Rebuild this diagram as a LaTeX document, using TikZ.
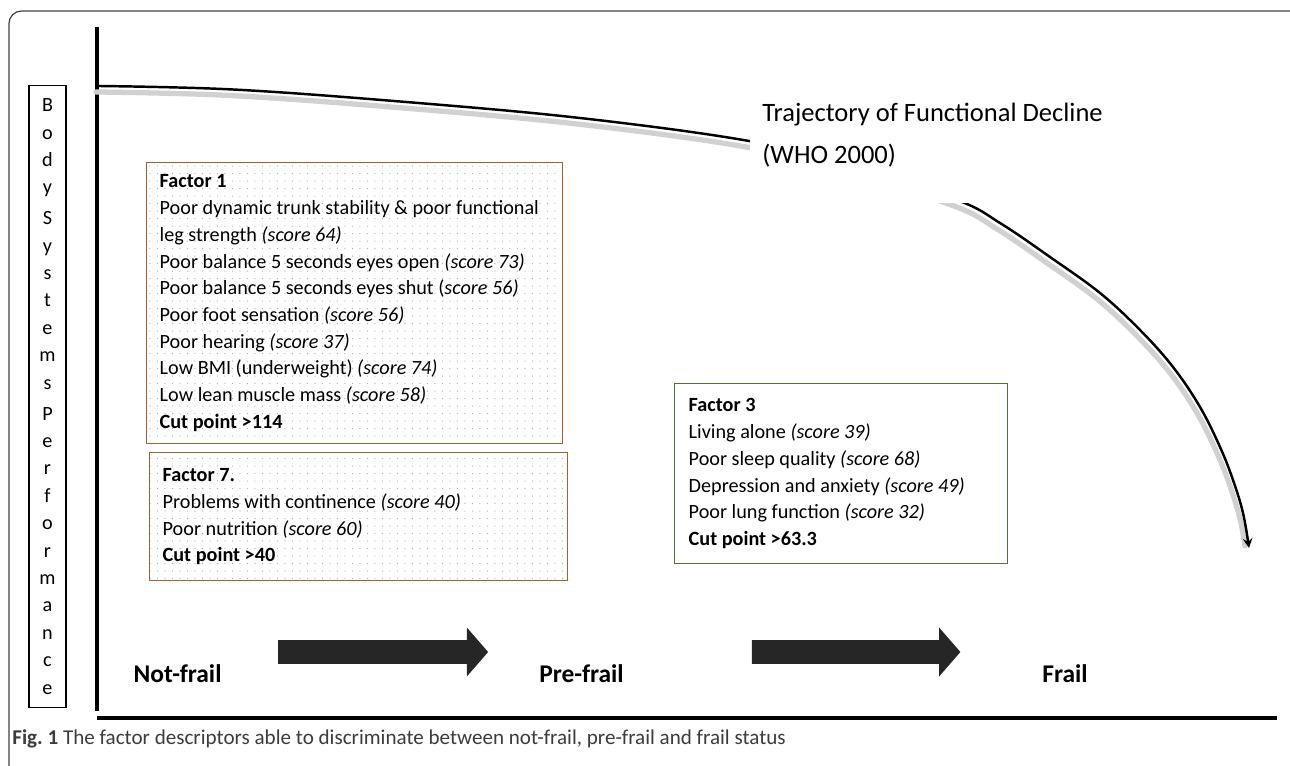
\documentclass[tikz,border=0pt]{standalone}
\usepackage{fontspec}
\setmainfont{Carlito}
\usetikzlibrary{shapes.arrows,patterns.meta,positioning}

\definecolor{factorbrown}{RGB}{166,96,48}
\definecolor{factorgreen}{RGB}{84,112,54}
\definecolor{captiongray}{RGB}{60,60,60}

\begin{document}
\begin{tikzpicture}[
    x=0.02cm, y=-0.02cm,
    factor/.style={draw, line width=0.8pt, align=justify, anchor=north west, inner xsep=0.26cm, inner ysep=0pt, font=\fontsize{11.5}{15.2}\selectfont},
    dotfill/.style={pattern={Dots[distance=0.15cm,radius=0.35pt]}, pattern color=black!35},
    stage/.style={font=\fontsize{14.5}{17}\selectfont\bfseries},
    blockarrow/.style={single arrow, fill=black!85, inner xsep=0pt, inner ysep=0.23cm, single arrow head extend=0.25cm, single arrow tip angle=98, minimum height=4.2cm},
    axis/.style={line width=2.2pt},
    decline/.style={->, >=stealth, line width=1.4pt},
    declineshadow/.style={line width=#1, black!18, line cap=round},
    traj/.style={fill=white, align=justify, text width=7.02cm, minimum height=2.7cm, inner xsep=0.24cm, font=\fontsize{15.1}{24}\selectfont}
]
    \useasboundingbox (0,0) rectangle (1290,766);
    \clip (0,0) rectangle (1290,766);

    % Frame
    \draw[black!75, line width=0.7pt, rounded corners=0.25cm] (1300,11) -- (9,11) -- (9,790);

    % Axes
    \coordinate (ytop) at (97,27);
    \coordinate (ybottom) at (97,711);
    \coordinate (xstart) at (97,718);
    \coordinate (xend) at (1277,718);
    \draw[axis] (ytop) -- (ybottom);
    \draw[axis] (xstart) -- (xend);

    % Body box
    \node[draw, line width=0.6pt, align=center, minimum width=0.74cm, minimum height=12.46cm, inner sep=0pt, font=\fontsize{11.5}{15.6}\selectfont] (body) at (47.5,396.5)
        {B\\o\\d\\y\\[2pt]S\\y\\s\\t\\e\\m\\s\\[2pt]P\\e\\r\\f\\o\\r\\m\\a\\n\\c\\e};

    % Trajectory
    \begin{scope}[shift={(-3,6)}]
        \draw[declineshadow=3pt] plot[smooth, tension=0.6] coordinates {(99,86) (233,89.5) (400,101.5) (580,118) (749,141) (850,166) (957,200) (1000,223) (1050,257) (1100,293) (1140,330) (1173,367) (1200,407) (1220,447) (1233,480) (1243,513) (1248,540)};
    \end{scope}
    \draw[decline] plot[smooth, tension=0.6] coordinates {(99,86) (233,89.5) (400,101.5) (580,118) (749,141) (850,166) (957,200) (1000,223) (1050,257) (1100,293) (1140,330) (1173,367) (1200,407) (1220,447) (1233,480) (1243,513) (1249,548)};
    \node[traj, anchor=south west] (trajlabel) at (750,203) {Trajectory of Functional Decline\\(WHO 2000)};

    % Factors
    \node[factor, draw=factorbrown, dotfill, text width=7.8cm, minimum height=5.62cm] (factor1) at (146,162)
        {\textbf{Factor 1}\\
         Poor dynamic trunk stability \& poor functional\\
         leg strength \textit{(score 64)}\\
         Poor balance 5 seconds eyes open \textit{(score 73)}\\
         Poor balance 5 seconds eyes shut (\textit{score 56)}\\
         Poor foot sensation \textit{(score 56)}\\
         Poor hearing \textit{(score 37)}\\
         Low BMI (underweight) \textit{(score 74)}\\
         Low lean muscle mass \textit{(score 58)}\\
         \textbf{Cut point >114}};
    \node[factor, draw=factorbrown, dotfill, text width=7.84cm, minimum height=2.56cm] (factor7) at (149,452)
        {\textbf{Factor 7.}\\
         Problems with continence \textit{(score 40)}\\
         Poor nutrition \textit{(score 60)}\\
         \textbf{Cut point >40}};
    \node[factor, draw=factorgreen, inner xsep=0.28cm, text width=6.1cm, minimum height=3.6cm] (factor3) at (674,383)
        {\textbf{Factor 3}\\
         Living alone \textit{(score 39)}\\
         Poor sleep quality \textit{(score 68)}\\
         Depression and anxiety \textit{(score 49)}\\
         Poor lung function \textit{(score 32)}\\
         \textbf{Cut point >63.3}};

    % Stages
    \node[stage] (notfrail) at (177.5,674) {Not-frail};
    \node[blockarrow] (arrow1) at (378,652) {};
    \node[stage] (prefrail) at (581.5,674) {Pre-frail};
    \node[blockarrow, minimum height=4.17cm] (arrow2) at (851,652) {};
    \node[stage] (frail) at (1065,674) {Frail};

    % Caption
    \node[anchor=west, inner sep=0pt, text=captiongray, font=\fontsize{12}{14}\selectfont] (caption) at (12,739)
        {\textbf{Fig.\ 1} The factor descriptors able to discriminate between not-frail, pre-frail and frail status};
\end{tikzpicture}
\end{document}
